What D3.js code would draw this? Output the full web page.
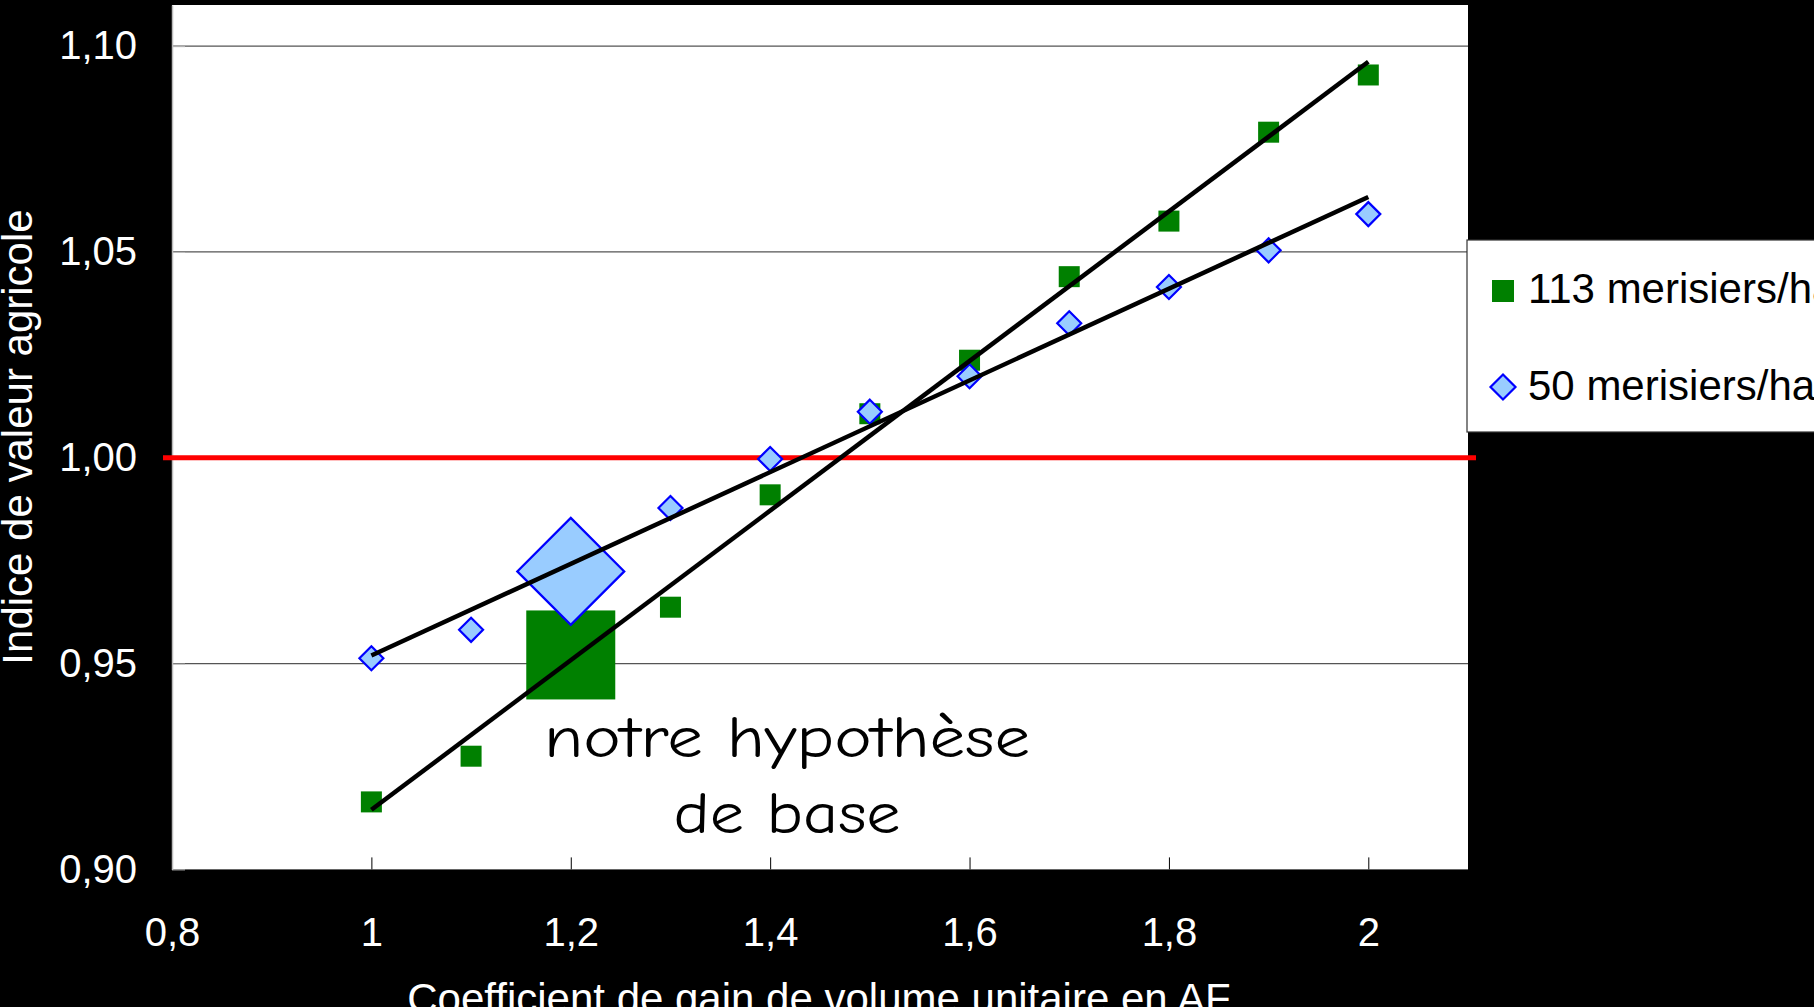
<!DOCTYPE html>
<html>
<head>
<meta charset="utf-8">
<script src="https://cdn.jsdelivr.net/npm/d3@7"></script>
<style>
  html, body { margin: 0; padding: 0; background: #000; overflow: hidden; }
  svg { display: block; }
</style>
</head>
<body>
<svg id="chart"></svg>
<script>
// données
const gainCoef = [1, 1.1, 1.2, 1.3, 1.4, 1.5, 1.6, 1.7, 1.8, 1.9, 2];
const indice113 = [0.9164, 0.9275, 0.9521, 0.9637, 0.9910, 1.0107, 1.0237, 1.0440, 1.0575, 1.0791, 1.0930];
const indice50 = [0.9513, 0.9582, 0.9724, 0.9878, 0.9997, 1.0112, 1.0198, 1.0327, 1.0415, 1.0504, 1.0592];
const seriesNames = ["113 merisiers/ha", "50 merisiers/ha"];
const xTicks = [0.8, 1, 1.2, 1.4, 1.6, 1.8, 2];
const yTicks = [0.90, 0.95, 1.00, 1.05, 1.10];
const referenceLevel = 1.00;
const baseHypothesis = 1.2;
const annotationLines = ["notre hypothèse", "de base"];

const W = 1814, H = 1007;
const plot = { left: 172, right: 1468, top: 5, bottom: 869.4 };

const svg = d3.select("#chart").attr("width", W).attr("height", H);

const fr = d3.formatLocale({ decimal: ",", thousands: " ", grouping: [3], currency: ["", " €"] });

const x = d3.scaleLinear().domain([0.8, 2.1]).range([plot.left, plot.right]);
const y = d3.scaleLinear().domain([0.9, 1.11]).range([plot.bottom, plot.top]);

// fond du graphique
svg.append("rect")
  .attr("x", plot.left).attr("y", plot.top)
  .attr("width", plot.right - plot.left).attr("height", plot.bottom - plot.top)
  .attr("fill", "#fff");

// grille horizontale
svg.append("g").selectAll("line")
  .data(yTicks.filter(d => d !== referenceLevel && d > 0.9))
  .join("line")
  .attr("x1", plot.left).attr("x2", plot.right)
  .attr("y1", d => y(d)).attr("y2", d => y(d))
  .attr("stroke", "#555").attr("stroke-width", 1.3);

// axes
const yAxis = svg.append("g")
  .attr("transform", `translate(${plot.left},0)`)
  .call(d3.axisLeft(y).tickValues(yTicks).tickFormat(fr.format(".2f")).tickSizeInner(-13).tickSizeOuter(0).tickPadding(35));
yAxis.select(".domain").attr("stroke", "#bbb").attr("stroke-width", 1.5);
yAxis.selectAll(".tick line").attr("stroke", "#bbb");
yAxis.selectAll("text")
  .attr("fill", "#fff").attr("font-family", "Liberation Sans, Arial, sans-serif").attr("font-size", 40);

const xAxis = svg.append("g")
  .attr("transform", `translate(0,${plot.bottom})`)
  .call(d3.axisBottom(x).tickValues(xTicks).tickFormat(fr.format(".1~f")).tickSizeInner(-12).tickSizeOuter(0).tickPadding(48));
xAxis.select(".domain").remove();
xAxis.selectAll(".tick line").attr("stroke", "#000").attr("stroke-width", 1);
xAxis.selectAll(".tick").filter(d => d === 0.8).select("line").remove();
xAxis.selectAll("text")
  .attr("fill", "#fff").attr("font-family", "Liberation Sans, Arial, sans-serif").attr("font-size", 40);

// ligne de référence 1,00
svg.append("line")
  .attr("x1", plot.left - 9).attr("x2", plot.right + 8)
  .attr("y1", y(referenceLevel)).attr("y2", y(referenceLevel))
  .attr("stroke", "#ff0000").attr("stroke-width", 5);

// marqueurs
const squareSize = d => d === baseHypothesis ? 89 : 21;
const diamondHalf = d => d === baseHypothesis ? 53.5 : 12;
const diamondPath = (cx, cy, r) => `M${cx},${cy - r}L${cx + r},${cy}L${cx},${cy + r}L${cx - r},${cy}Z`;

const pts113 = gainCoef.map((g, i) => ({ g, v: indice113[i] }));
const pts50 = gainCoef.map((g, i) => ({ g, v: indice50[i] }));

svg.append("g").selectAll("rect")
  .data(pts113)
  .join("rect")
  .attr("x", d => x(d.g) - squareSize(d.g) / 2)
  .attr("y", d => y(d.v) - squareSize(d.g) / 2)
  .attr("width", d => squareSize(d.g))
  .attr("height", d => squareSize(d.g))
  .attr("fill", "#008000");

svg.append("g").selectAll("path")
  .data(pts50)
  .join("path")
  .attr("d", d => diamondPath(x(d.g), y(d.v), diamondHalf(d.g)))
  .attr("fill", "#99ccff").attr("stroke", "#0000ff").attr("stroke-width", 2.2);

// droites de régression linéaire
function linReg(xs, ys) {
  const mx = d3.mean(xs), my = d3.mean(ys);
  const slope = d3.sum(xs, (xv, i) => (xv - mx) * (ys[i] - my)) / d3.sum(xs, xv => (xv - mx) ** 2);
  return xv => my + slope * (xv - mx);
}
const ext = d3.extent(gainCoef);
[indice113, indice50].forEach(vals => {
  const f = linReg(gainCoef, vals);
  svg.append("line")
    .attr("x1", x(ext[0])).attr("y1", y(f(ext[0])))
    .attr("x2", x(ext[1])).attr("y2", y(f(ext[1])))
    .attr("stroke", "#000").attr("stroke-width", 4.5);
});

// annotation
const annot = svg.append("g").attr("font-family", "Comic Sans MS, Comic Neue, Noto Sans, sans-serif")
  .attr("font-size", 58).attr("fill", "#000").attr("text-anchor", "middle");
annot.append("text").attr("x", 787).attr("y", 757)
  .attr("textLength", 486).attr("lengthAdjust", "spacingAndGlyphs").text(annotationLines[0]);
annot.append("text").attr("x", 787).attr("y", 833)
  .attr("textLength", 227).attr("lengthAdjust", "spacingAndGlyphs").text(annotationLines[1]);

// titres des axes
svg.append("text")
  .attr("transform", `translate(32,437) rotate(-90)`)
  .attr("text-anchor", "middle")
  .attr("fill", "#fff").attr("font-family", "Liberation Sans, Arial, sans-serif").attr("font-size", 42)
  .text("Indice de valeur agricole");

svg.append("text")
  .attr("x", 819).attr("y", 1013)
  .attr("text-anchor", "middle")
  .attr("fill", "#fff").attr("font-family", "Liberation Sans, Arial, sans-serif").attr("font-size", 42)
  .text("Coefficient de gain de volume unitaire en AF");

// légende
const legend = svg.append("g");
legend.append("rect")
  .attr("x", 1467).attr("y", 240).attr("width", 420).attr("height", 192)
  .attr("fill", "#fff").attr("stroke", "#333").attr("stroke-width", 1.2);
legend.append("rect").attr("x", 1492).attr("y", 280).attr("width", 22).attr("height", 22).attr("fill", "#008000");
legend.append("path").attr("d", diamondPath(1503, 387, 12.5))
  .attr("fill", "#99ccff").attr("stroke", "#0000ff").attr("stroke-width", 2.2);
legend.selectAll("text.lbl")
  .data(seriesNames)
  .join("text")
  .attr("class", "lbl")
  .attr("x", 1528).attr("y", (d, i) => i === 0 ? 303 : 400)
  .attr("fill", "#000").attr("font-family", "Liberation Sans, Arial, sans-serif").attr("font-size", 42)
  .text(d => d);
</script>
</body>
</html>
